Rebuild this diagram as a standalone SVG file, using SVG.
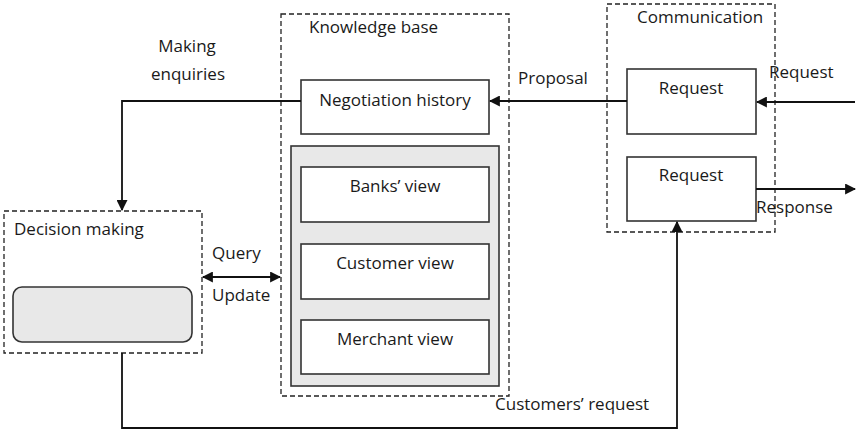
<svg xmlns="http://www.w3.org/2000/svg" width="859" height="434" viewBox="0 0 859 434">
<style>
text{font-family:"Open Sans","Noto Sans",sans-serif;font-size:17px;fill:#1a1a1a}
.dash{fill:none;stroke:#222;stroke-width:1.3;stroke-dasharray:5 3}
.box{fill:#fff;stroke:#333;stroke-width:1.6}
.line{fill:none;stroke:#111;stroke-width:1.8}
.mid{text-anchor:middle}
</style>
<defs>
<marker id="ahb" viewBox="0 0 10 10" refX="9" refY="5" markerWidth="11" markerHeight="11" orient="auto-start-reverse" markerUnits="userSpaceOnUse">
<path d="M0,0 L10,5 L0,10 z" fill="#111"/>
</marker>
</defs>
<rect width="859" height="434" fill="#fff"/>

<g id="knowledge-base">
<rect class="dash" x="281" y="14" width="228" height="382"/>
<text x="309" y="33">Knowledge base</text>
</g>
<g id="negotiation-history">
<rect class="box" x="301" y="80" width="188" height="54"/>
<text class="mid" x="395" y="106">Negotiation history</text>
</g>
<g id="views-panel">
<rect x="291" y="146" width="208" height="240" fill="#e8e8e8" stroke="#333" stroke-width="1.6"/>
</g>
<g id="banks-view">
<rect class="box" x="301" y="167" width="188" height="55"/>
<text class="mid" x="395" y="192">Banks’ view</text>
</g>
<g id="customer-view">
<rect class="box" x="301" y="244" width="188" height="55"/>
<text class="mid" x="395" y="269">Customer view</text>
</g>
<g id="merchant-view">
<rect class="box" x="301" y="320" width="188" height="54"/>
<text class="mid" x="395" y="345">Merchant view</text>
</g>

<g id="communication">
<rect class="dash" x="607" y="4" width="168" height="228"/>
<text x="637" y="23">Communication</text>
</g>
<g id="request-in">
<rect class="box" x="627" y="69" width="129" height="65"/>
<text class="mid" x="691" y="94">Request</text>
</g>
<g id="request-out">
<rect class="box" x="627" y="157" width="129" height="64"/>
<text class="mid" x="691" y="181">Request</text>
</g>

<g id="decision-making">
<rect class="dash" x="4" y="211" width="198" height="142"/>
<text x="14" y="235">Decision making</text>
<rect x="13" y="287" width="179" height="55" rx="9" fill="#e8e8e8" stroke="#333" stroke-width="1.6"/>
</g>

<g id="connectors">
<path class="line" d="M855,102 L757,102" marker-end="url(#ahb)"/>
<path class="line" d="M627,101 L490,101" marker-end="url(#ahb)"/>
<path class="line" d="M756,189 L855,189" marker-end="url(#ahb)"/>
<path class="line" d="M301,101 L122,101 L122,210" marker-end="url(#ahb)"/>
<path class="line" d="M203,277 L280,277" marker-start="url(#ahb)" marker-end="url(#ahb)"/>
<path class="line" d="M122,353 L122,428 L677,428 L677,222" marker-end="url(#ahb)"/>
</g>

<g id="labels">
<text class="mid" x="187" y="52">Making</text>
<text class="mid" x="188" y="80">enquiries</text>
<text x="518" y="84">Proposal</text>
<text x="769" y="78">Request</text>
<text x="756" y="213">Response</text>
<text x="212" y="259">Query</text>
<text x="212" y="301">Update</text>
<text x="495" y="410">Customers’ request</text>
</g>
</svg>
